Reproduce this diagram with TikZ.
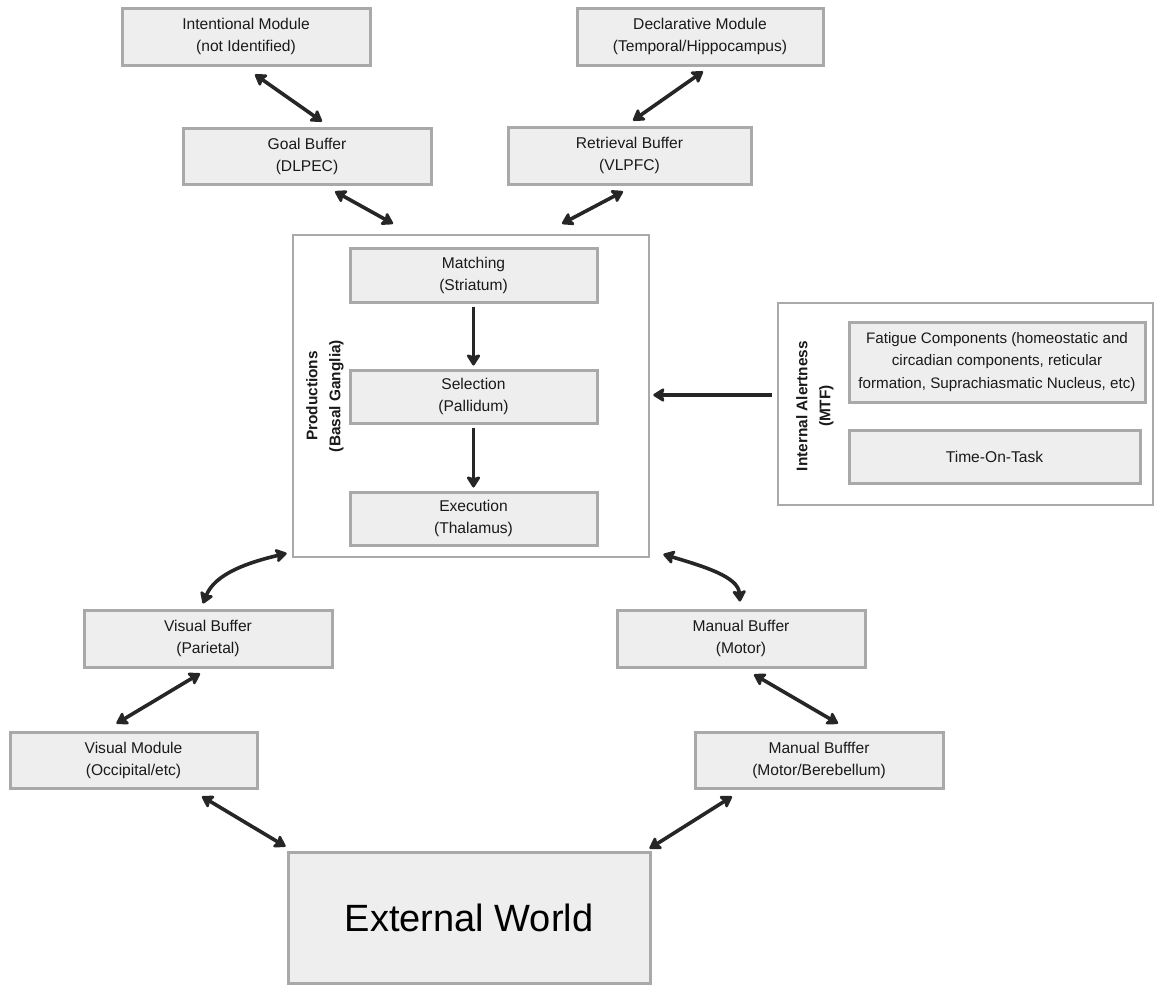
\documentclass[tikz,border=0pt]{standalone}
\usepackage{fontspec}
\setmainfont{Liberation Sans}
\usetikzlibrary{arrows.meta,calc}
\definecolor{boxfill}{HTML}{EEEEEE}
\definecolor{boxline}{HTML}{A9A9A9}
\definecolor{arrowcol}{HTML}{262626}
\definecolor{txt}{HTML}{1A1A1A}
\begin{document}
\begin{tikzpicture}[x=1pt,y=-1pt,
  mbox/.style={draw=boxline,line width=3pt,fill=boxfill,inner sep=0pt,align=center,
    text=txt,font=\fontsize{15.6}{22}\selectfont},
  outerbox/.style={draw=boxline,line width=2.6pt,fill=white,inner sep=0pt},
  vlabel/.style={rotate=90,align=center,text=txt,font=\fontsize{15.4}{23}\selectfont\bfseries},
  conn/.style={draw=arrowcol,line width=3.6pt,
    arrows={-Stealth[length=13pt,width=16pt,inset=2.5pt,round]}},
  dconn/.style={draw=arrowcol,line width=3.6pt,
    arrows={Stealth[length=13pt,width=16pt,inset=2.5pt,round]-Stealth[length=13pt,width=16pt,inset=2.5pt,round]}}]
\useasboundingbox (0,0) rectangle (1155,985);

% top modules and buffers
\node[mbox,minimum width=248pt,minimum height=57pt] (intent) at (246,36.5) {Intentional Module\\(not Identified)};
\node[mbox,minimum width=248pt,minimum height=56pt] (goal) at (307,156) {Goal Buffer\\(DLPEC)};
\node[mbox,minimum width=246pt,minimum height=57pt] (decl) at (700,36.5) {Declarative Module\\(Temporal/Hippocampus)};
\node[mbox,minimum width=243pt,minimum height=57pt] (ret) at (629.5,155.5) {Retrieval Buffer\\(VLPFC)};

% productions
\node[outerbox,minimum width=356pt,minimum height=322pt] (prod) at (471,396) {};
\node[vlabel] (prodlabel) at (325,396) {Productions\\(Basal Ganglia)};
\node[mbox,minimum width=247pt,minimum height=54pt] (match) at (473.5,275) {Matching\\(Striatum)};
\node[mbox,minimum width=247pt,minimum height=53pt] (sel) at (473.5,396.5) {Selection\\(Pallidum)};
\node[mbox,minimum width=247pt,minimum height=53pt] (exec) at (473.5,518.5) {Execution\\(Thalamus)};

% internal alertness
\node[outerbox,minimum width=375pt,minimum height=202pt] (alert) at (965.5,404) {};
\node[vlabel] (alertlabel) at (815,406) {Internal Alertness\\(MTF)};
\node[mbox,minimum width=296pt,minimum height=80pt,font=\fontsize{15.2}{22.5}\selectfont] (fatigue) at (997,362) {Fatigue Components (homeostatic and\\circadian components, reticular\\formation, Suprachiasmatic Nucleus, etc)};
\node[mbox,minimum width=291pt,minimum height=53pt] (tot) at (994.5,456.5) {Time-On-Task};

% lower buffers and modules
\node[mbox,minimum width=248pt,minimum height=57pt] (vbuf) at (208,638.5) {Visual Buffer\\(Parietal)};
\node[mbox,minimum width=247pt,minimum height=56pt] (vmod) at (133.5,760) {Visual Module\\(Occipital/etc)};
\node[mbox,minimum width=248pt,minimum height=57pt] (mbuf) at (741,638.5) {Manual Buffer\\(Motor)};
\node[mbox,minimum width=248pt,minimum height=56pt] (mbuf2) at (819,760) {Manual Bufffer\\(Motor/Berebellum)};
\node[mbox,minimum width=362pt,minimum height=131pt,font=\fontsize{38}{44}\selectfont,text=black] (world) at (469,917.5) {External World};

% connectors
\draw[dconn] ($(intent.south)+(9,8)$) -- ($(goal.north)+(15,-5)$);
\draw[dconn] ($(goal.south)+(28,6)$) -- ($(prod.north)+(-78,-10)$);
\draw[dconn] ($(prod.north)+(91,-10)$) -- ($(ret.south)+(-6.5,6)$);
\draw[dconn] ($(ret.north)+(3.5,-5)$) -- ($(decl.south)+(3,5)$);
\draw[conn,shorten <=3pt,shorten >=3pt] (match.south) -- (sel.north);
\draw[conn,shorten <=3pt,shorten >=3pt] (sel.south) -- (exec.north);
\draw[conn] ($(alert.west)+(-5,-9)$) -- ($(prod.east)+(3,-1)$);
\draw[dconn] ($(vbuf.north)+(-5,-5)$) .. controls +(12,-30) and +(-38,9) .. ($(prod.south west)+(-5,-5)$);
\draw[dconn] ($(prod.south east)+(13,-4)$) .. controls +(40,12) and +(-2,-25) .. ($(mbuf.north)+(-1,-7)$);
\draw[dconn] ($(vbuf.south)+(-8,5)$) -- ($(vmod.north)+(-17,-7)$);
\draw[dconn] ($(mbuf.south)+(13,6)$) -- ($(mbuf2.north)+(19,-7)$);
\draw[dconn] ($(vmod.south)+(68.5,7)$) -- ($(world.north west)+(-1,-4)$);
\draw[dconn] ($(mbuf2.south)+(-87,7)$) -- ($(world.north east)+(-2,-2)$);
\end{tikzpicture}
\end{document}
